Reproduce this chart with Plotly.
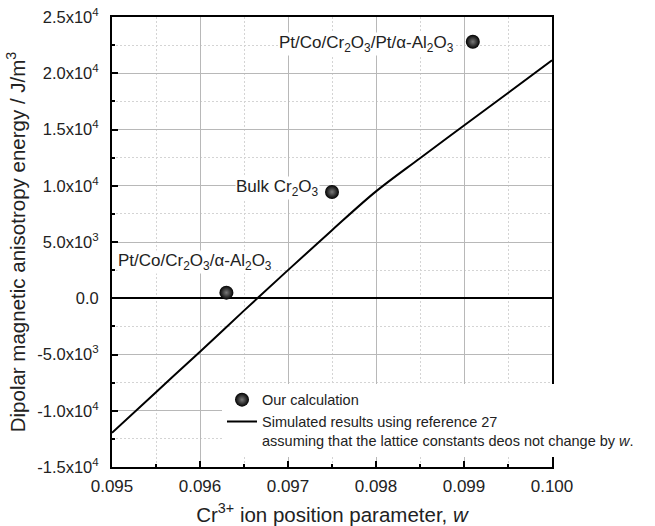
import plotly.graph_objects as go

# Simulated curve
w_sim = [0.0950, 0.0955, 0.0960, 0.0965, 0.0970, 0.0975, 0.0980, 0.0985, 0.0990, 0.0995, 0.1000]
e_sim = [-11960, -8350, -4750, -1100, 2500, 6050, 9500, 12450, 15350, 18250, 21150]

# Our calculation points
w_calc = [0.0963, 0.0975, 0.0991]
e_calc = [500, 9450, 22800]
calc_labels = [
    "Pt/Co/Cr<sub>2</sub>O<sub>3</sub>/α-Al<sub>2</sub>O<sub>3</sub>",
    "Bulk Cr<sub>2</sub>O<sub>3</sub>",
    "Pt/Co/Cr<sub>2</sub>O<sub>3</sub>/Pt/α-Al<sub>2</sub>O<sub>3</sub>",
]

y_tickvals = [-15000, -10000, -5000, 0, 5000, 10000, 15000, 20000, 25000]
y_ticktext = ["-1.5x10<sup>4</sup>", "-1.0x10<sup>4</sup>", "-5.0x10<sup>3</sup>", "0.0",
              "5.0x10<sup>3</sup>", "1.0x10<sup>4</sup>", "1.5x10<sup>4</sup>",
              "2.0x10<sup>4</sup>", "2.5x10<sup>4</sup>"]
y_minor = [-12500, -7500, -2500, 2500, 7500, 12500, 17500, 22500]
x_tickvals = [0.095, 0.096, 0.097, 0.098, 0.099, 0.100]
x_ticktext = ["0.095", "0.096", "0.097", "0.098", "0.099", "0.100"]
x_minor = [0.0955, 0.0965, 0.0975, 0.0985, 0.0995]

FONT = "Liberation Sans, Arial, sans-serif"
TXT = "#222"

fig = go.Figure()
fig.add_trace(go.Scatter(
    x=w_calc, y=e_calc, mode="markers", name="Our calculation",
    marker=dict(size=14, color="black",
                gradient=dict(type="radial", color="#7a7a7a"),
                line=dict(width=0)),
))
fig.add_trace(go.Scatter(
    x=w_sim, y=e_sim, mode="lines",
    name="Simulated results using reference 27<br>assuming that the lattice constants deos not change by <i>w</i>.",
    line=dict(color="black", width=2, shape="spline", smoothing=1.0),
))

# labels for the calculated points (pixel offsets from each point)
label_shift = [(-31, 31, "center"), (-12, 4, "right"), (-18, -2, "right")]
for wx, ey, txt, (dx, dy, anc) in zip(w_calc, e_calc, calc_labels, label_shift):
    fig.add_annotation(x=wx, y=ey, text=txt, showarrow=False, xanchor=anc,
                       yanchor="middle", xshift=dx, yshift=dy,
                       font=dict(size=17, color=TXT, family=FONT),
                       bgcolor="white", borderpad=0)

axis_common = dict(
    showline=True, linewidth=2, linecolor="black", mirror=True,
    ticks="inside", ticklen=6, tickwidth=2, tickcolor="black",
    showgrid=True, gridcolor="#b8b8b8", gridwidth=1, automargin=False,
)
fig.update_xaxes(
    range=[0.095, 0.100], tickvals=x_tickvals, ticktext=x_ticktext,
    tickfont=dict(size=17, color=TXT, family=FONT), ticklabelstandoff=3,
    title=dict(text="Cr<sup>3+</sup> ion position parameter, <i>w</i>",
               font=dict(size=20.5, color=TXT, family=FONT), standoff=12),
    zeroline=False,
    minor=dict(tickvals=x_minor, ticks="inside", ticklen=3, tickwidth=1.5, tickcolor="black",
               showgrid=True, gridcolor="#d4d4d4", griddash="2px,2px", gridwidth=1),
    **axis_common,
)
fig.update_yaxes(
    range=[-15000, 25000], tickvals=y_tickvals, ticktext=y_ticktext,
    tickfont=dict(size=16.5, color=TXT, family=FONT), ticklabelstandoff=8,
    title=dict(text="Dipolar magnetic anisotropy energy / J/m<sup>3</sup>",
               font=dict(size=20.5, color=TXT, family=FONT), standoff=6),
    zeroline=True, zerolinecolor="black", zerolinewidth=2,
    minor=dict(tickvals=y_minor, ticks="inside", ticklen=3, tickwidth=1.5, tickcolor="black",
               showgrid=True, gridcolor="#d4d4d4", griddash="2px,2px", gridwidth=1),
    **axis_common,
)

fig.update_layout(
    width=655, height=526,
    margin=dict(l=112, r=103, t=17, b=59),
    plot_bgcolor="white", paper_bgcolor="white",
    font=dict(family=FONT, color=TXT),
    showlegend=True,
    legend=dict(x=0.25, y=0.185, xanchor="left", yanchor="top",
                bgcolor="white", borderwidth=0, valign="top",
                font=dict(size=14.5, color=TXT, family=FONT),
                tracegroupgap=0),
)

fig.write_html("out.html")
